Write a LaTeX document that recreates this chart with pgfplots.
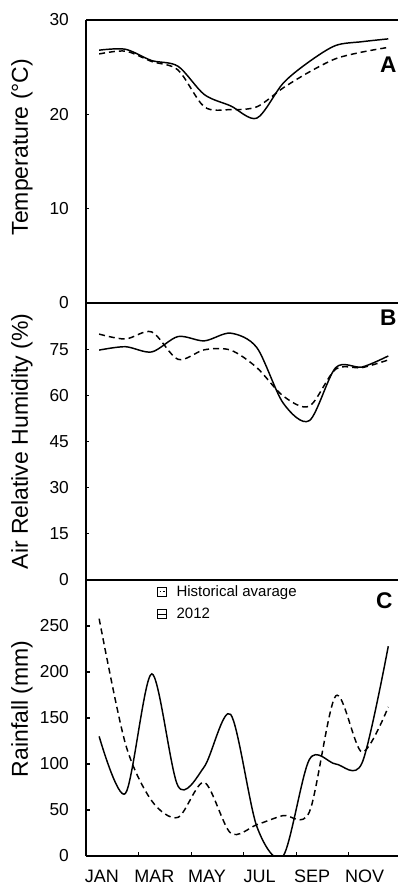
\documentclass[border=0pt]{standalone}
\usepackage{fontspec}
\setmainfont{Liberation Sans}
\usepackage{pgfplots}
\usepackage{pgfplotstable}
\pgfplotsset{compat=1.18}
\usetikzlibrary{calc}

% month index: 0=Jan ... 11=Dec
\pgfplotstableread{
m hist y2012
0 26.4 26.8
1 26.7 26.9
2 25.6 25.7
3 24.7 25.1
4 20.8 22.1
5 20.5 20.9
6 20.8 19.6
7 22.8 23.3
8 24.5 25.6
9 25.9 27.3
10 26.6 27.7
11 27.1 28.0
}\temp

\pgfplotstableread{
m hist y2012
0 79.9 74.7
1 78.3 75.8
2 80.6 74.1
3 71.7 79.1
4 74.8 77.7
5 74.7 80.2
6 69.0 75.5
7 59.8 57.5
8 56.5 51.8
9 68.5 69.0
10 69.0 69.2
11 71.5 72.8
}\hum

\pgfplotstableread{
m hist y2012
0 258 130
1 122 68
2 60 198
3 42 76
4 80 97
5 25 154
6 34 32
7 44 0
8 48 105
9 174 100
10 113 101
11 162 228
}\rain

\pgfplotsset{
  panel/.style={
    scale only axis,
    width=234pt,
    xmin=-0.5, xmax=11.37,
    axis y line*=left,
    axis x line*=box,
    axis line style={line width=1pt},
    tick align=inside,
    major tick length=2.5pt,
    tick style={line width=0.8pt, black},
    /pgf/number format/assume math mode=true,
    yticklabel style={font=\fontsize{13}{14}\selectfont, xshift=-9.3pt},
    xtick=\empty,
    every axis y label/.style={at={(axis description cs:-0.205,0.5)}, rotate=90, anchor=center, font=\fontsize{17.25}{18}\selectfont},
  },
  s2012/.style={black, line width=1.1pt, solid, smooth, tension=0.5},
  hist/.style={black, line width=1.1pt, dash pattern=on 4.5pt off 3pt, smooth, tension=0.5},
}

\begin{document}
\begin{tikzpicture}
% Panel A
\begin{axis}[panel, name=A, height=212.25pt,
  ymin=0, ymax=30, ytick={0,10,20,30},
  ylabel={Temperature (°C)},
  ylabel style={at={(axis description cs:-0.205,0.551)}}]
\addplot[hist] table[x=m, y=hist] {\temp};
\addplot[s2012] table[x=m, y=y2012] {\temp};
\node[font=\fontsize{17}{18}\selectfont\bfseries] at (axis cs:11,25.3) {A};
\end{axis}

% Panel B
\begin{axis}[panel, name=B, at={(A.south west)}, anchor=north west, height=207.75pt,
  ymin=0, ymax=90, ytick={0,15,30,45,60,75},
  ylabel={Air Relative Humidity (\%)}]
\addplot[hist] table[x=m, y=hist] {\hum};
\addplot[s2012] table[x=m, y=y2012] {\hum};
\node[font=\fontsize{17}{18}\selectfont\bfseries] at (axis cs:11,85.1) {B};
\end{axis}

% Panel C
\begin{axis}[panel, name=C, at={(B.south west)}, anchor=north west, height=207pt,
  ymin=0, ymax=300, ytick={0,50,100,150,200,250},
  ylabel={Rainfall (mm)},
  ylabel style={at={(axis description cs:-0.205,0.533)}},
  xtick={1.5,3.5,5.5,7.5,9.5}, xticklabels={},
  xtick pos=left,
  major tick length=3pt,
  extra x ticks={0,2,4,6,8,10},
  extra x tick labels={JAN,MAR,MAY,JUL,SEP,NOV},
  extra x tick style={major tick length=0pt,
    xticklabel style={font=\fontsize{13.5}{14}\selectfont, xshift=2pt, yshift=-7pt}},
  legend cell align=left,
  legend style={at={(axis cs:2.2,297)}, anchor=north west, draw=none, fill=none,
    font=\fontsize{11.25}{12}\selectfont, row sep=3pt, column sep=5pt, inner sep=0pt},
]
\addplot[hist, legend image code/.code={
    \draw[black, line width=0.5pt, solid] (0pt,-3.3pt) rectangle (6.8pt,3.3pt);
    \draw[black, line width=0.7pt, solid] (1.4pt,0.8pt) -- (2.7pt,0.8pt);
    \draw[black, line width=0.7pt, solid] (4.1pt,0.8pt) -- (5.4pt,0.8pt);}]
  table[x=m, y=hist] {\rain};
\addlegendentry{Historical avarage}
\addplot[s2012, legend image code/.code={
    \draw[black, line width=0.5pt, solid] (0pt,-3.3pt) rectangle (6.8pt,3.3pt);
    \draw[black, line width=0.7pt, solid] (0pt,0pt) -- (6.8pt,0pt);}]
  table[x=m, y=y2012] {\rain};
\addlegendentry{2012}
\node[font=\fontsize{17}{18}\selectfont\bfseries] at (axis cs:10.85,278) {C};
\end{axis}

\pgfresetboundingbox
\path[use as bounding box] ($(A.north west)+(-64.5pt,15pt)$) rectangle ($(C.south east)+(0pt,-22.5pt)$);
\end{tikzpicture}
\end{document}
